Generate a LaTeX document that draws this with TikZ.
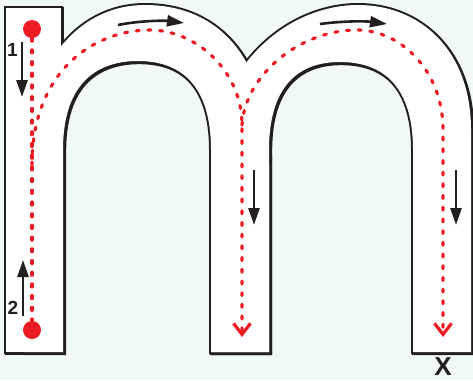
\documentclass[tikz,border=0pt]{standalone}
\usepackage{fontspec}
\newfontfamily\labfont{Liberation Sans}
\usetikzlibrary{arrows.meta}
\definecolor{bg}{RGB}{241,249,246}
\definecolor{ink}{RGB}{35,31,32}
\definecolor{rd}{RGB}{237,28,36}
\def\pA{(6,8) -- (61,8) -- (61,352) -- (6,352) -- cycle}
\def\pB{(24,352) -- (24,170) .. controls (24,70) and (75,5) .. (145,5) .. controls (220,5) and (269,60) .. (269,165) -- (269,352) -- (211,352) -- (211,150) .. controls (211,80) and (176,61) .. (138,61) .. controls (100,61) and (63,80) .. (63,150) -- (63,352) -- cycle}
\def\pC{(211,352) -- (211,170) .. controls (211,70) and (285,5) .. (358,5) .. controls (420,5) and (471,50) .. (471,130) -- (471,352) -- (413,352) -- (413,150) .. controls (413,80) and (377,62) .. (340,62) .. controls (304,62) and (269,80) .. (269,150) -- (269,352) -- cycle}
\begin{document}
\begin{tikzpicture}[x=1pt,y=-1pt,
  outl/.style={ink, line width=4, line join=miter},
  rdash/.style={rd, line width=3.2, dash pattern=on 3pt off 8.7pt, line cap=round},
  rtip/.style={-{Straight Barb[length=11,width=17,line width=3.2]}},
  blk/.style={ink, line width=2.6, -{Triangle[length=17,width=11]}},
  dot/.style={circle, fill=rd, minimum size=18, inner sep=0pt},
  numlab/.style={font=\labfont\bfseries\fontsize{19}{19}\selectfont, text=ink, inner sep=0pt}]
\fill[bg] (0,0) rectangle (473,380);
\useasboundingbox (0,0) rectangle (473,380);
% shadow
\begin{scope}[shift={(1.2,1.2)}]
\draw[outl] \pA; \draw[outl] \pB; \draw[outl] \pC;
\end{scope}
\draw[outl] \pA; \draw[outl] \pB; \draw[outl] \pC;
\fill[white] \pA; \fill[white] \pB; \fill[white] \pC;
% red dots and traces
\node[dot] (s1) at (32,29) {};
\node[dot] (s2) at (32,330) {};
\coordinate (j1) at (32,165);
\coordinate (j2) at (242,125);
\coordinate (e2) at (242,337);
\coordinate (j3) at (443,130);
\coordinate (e3) at (443,337);
\draw[rdash] (s1) -- (s2);
\draw[rdash, rtip] (j1) .. controls (32,70) and (95,30) .. (150,30) .. controls (195,30) and (242,70) .. (j2) -- (e2);
\draw[rdash, rtip] (j2) .. controls (245,75) and (300,30) .. (357,30) .. controls (400,30) and (443,70) .. (j3) -- (e3);
% black arrows
\coordinate (a1s) at (22,42); \coordinate (a1e) at (22,97);
\coordinate (a2s) at (23,316); \coordinate (a2e) at (23,260);
\coordinate (a3s) at (118,25); \coordinate (a3e) at (184,23);
\coordinate (a4s) at (320,24); \coordinate (a4e) at (387,24);
\coordinate (a5s) at (254,170); \coordinate (a5e) at (254,225);
\coordinate (a6s) at (456,170); \coordinate (a6e) at (456,225);
\draw[blk] (a1s) -- (a1e);
\draw[blk] (a2s) -- (a2e);
\draw[blk] (a3s) .. controls (140,20.5) and (165,20.5) .. (a3e);
\draw[blk] (a4s) .. controls (342,21) and (365,21) .. (a4e);
\draw[blk] (a5s) -- (a5e);
\draw[blk] (a6s) -- (a6e);
% labels
\node[numlab] (n1) at (12.5,50) {1};
\node[numlab] (n2) at (13,308) {2};
\node[font=\labfont\bfseries\fontsize{26}{26}\selectfont, text=ink, inner sep=0pt] (nx) at (443,367) {X};
\end{tikzpicture}
\end{document}
